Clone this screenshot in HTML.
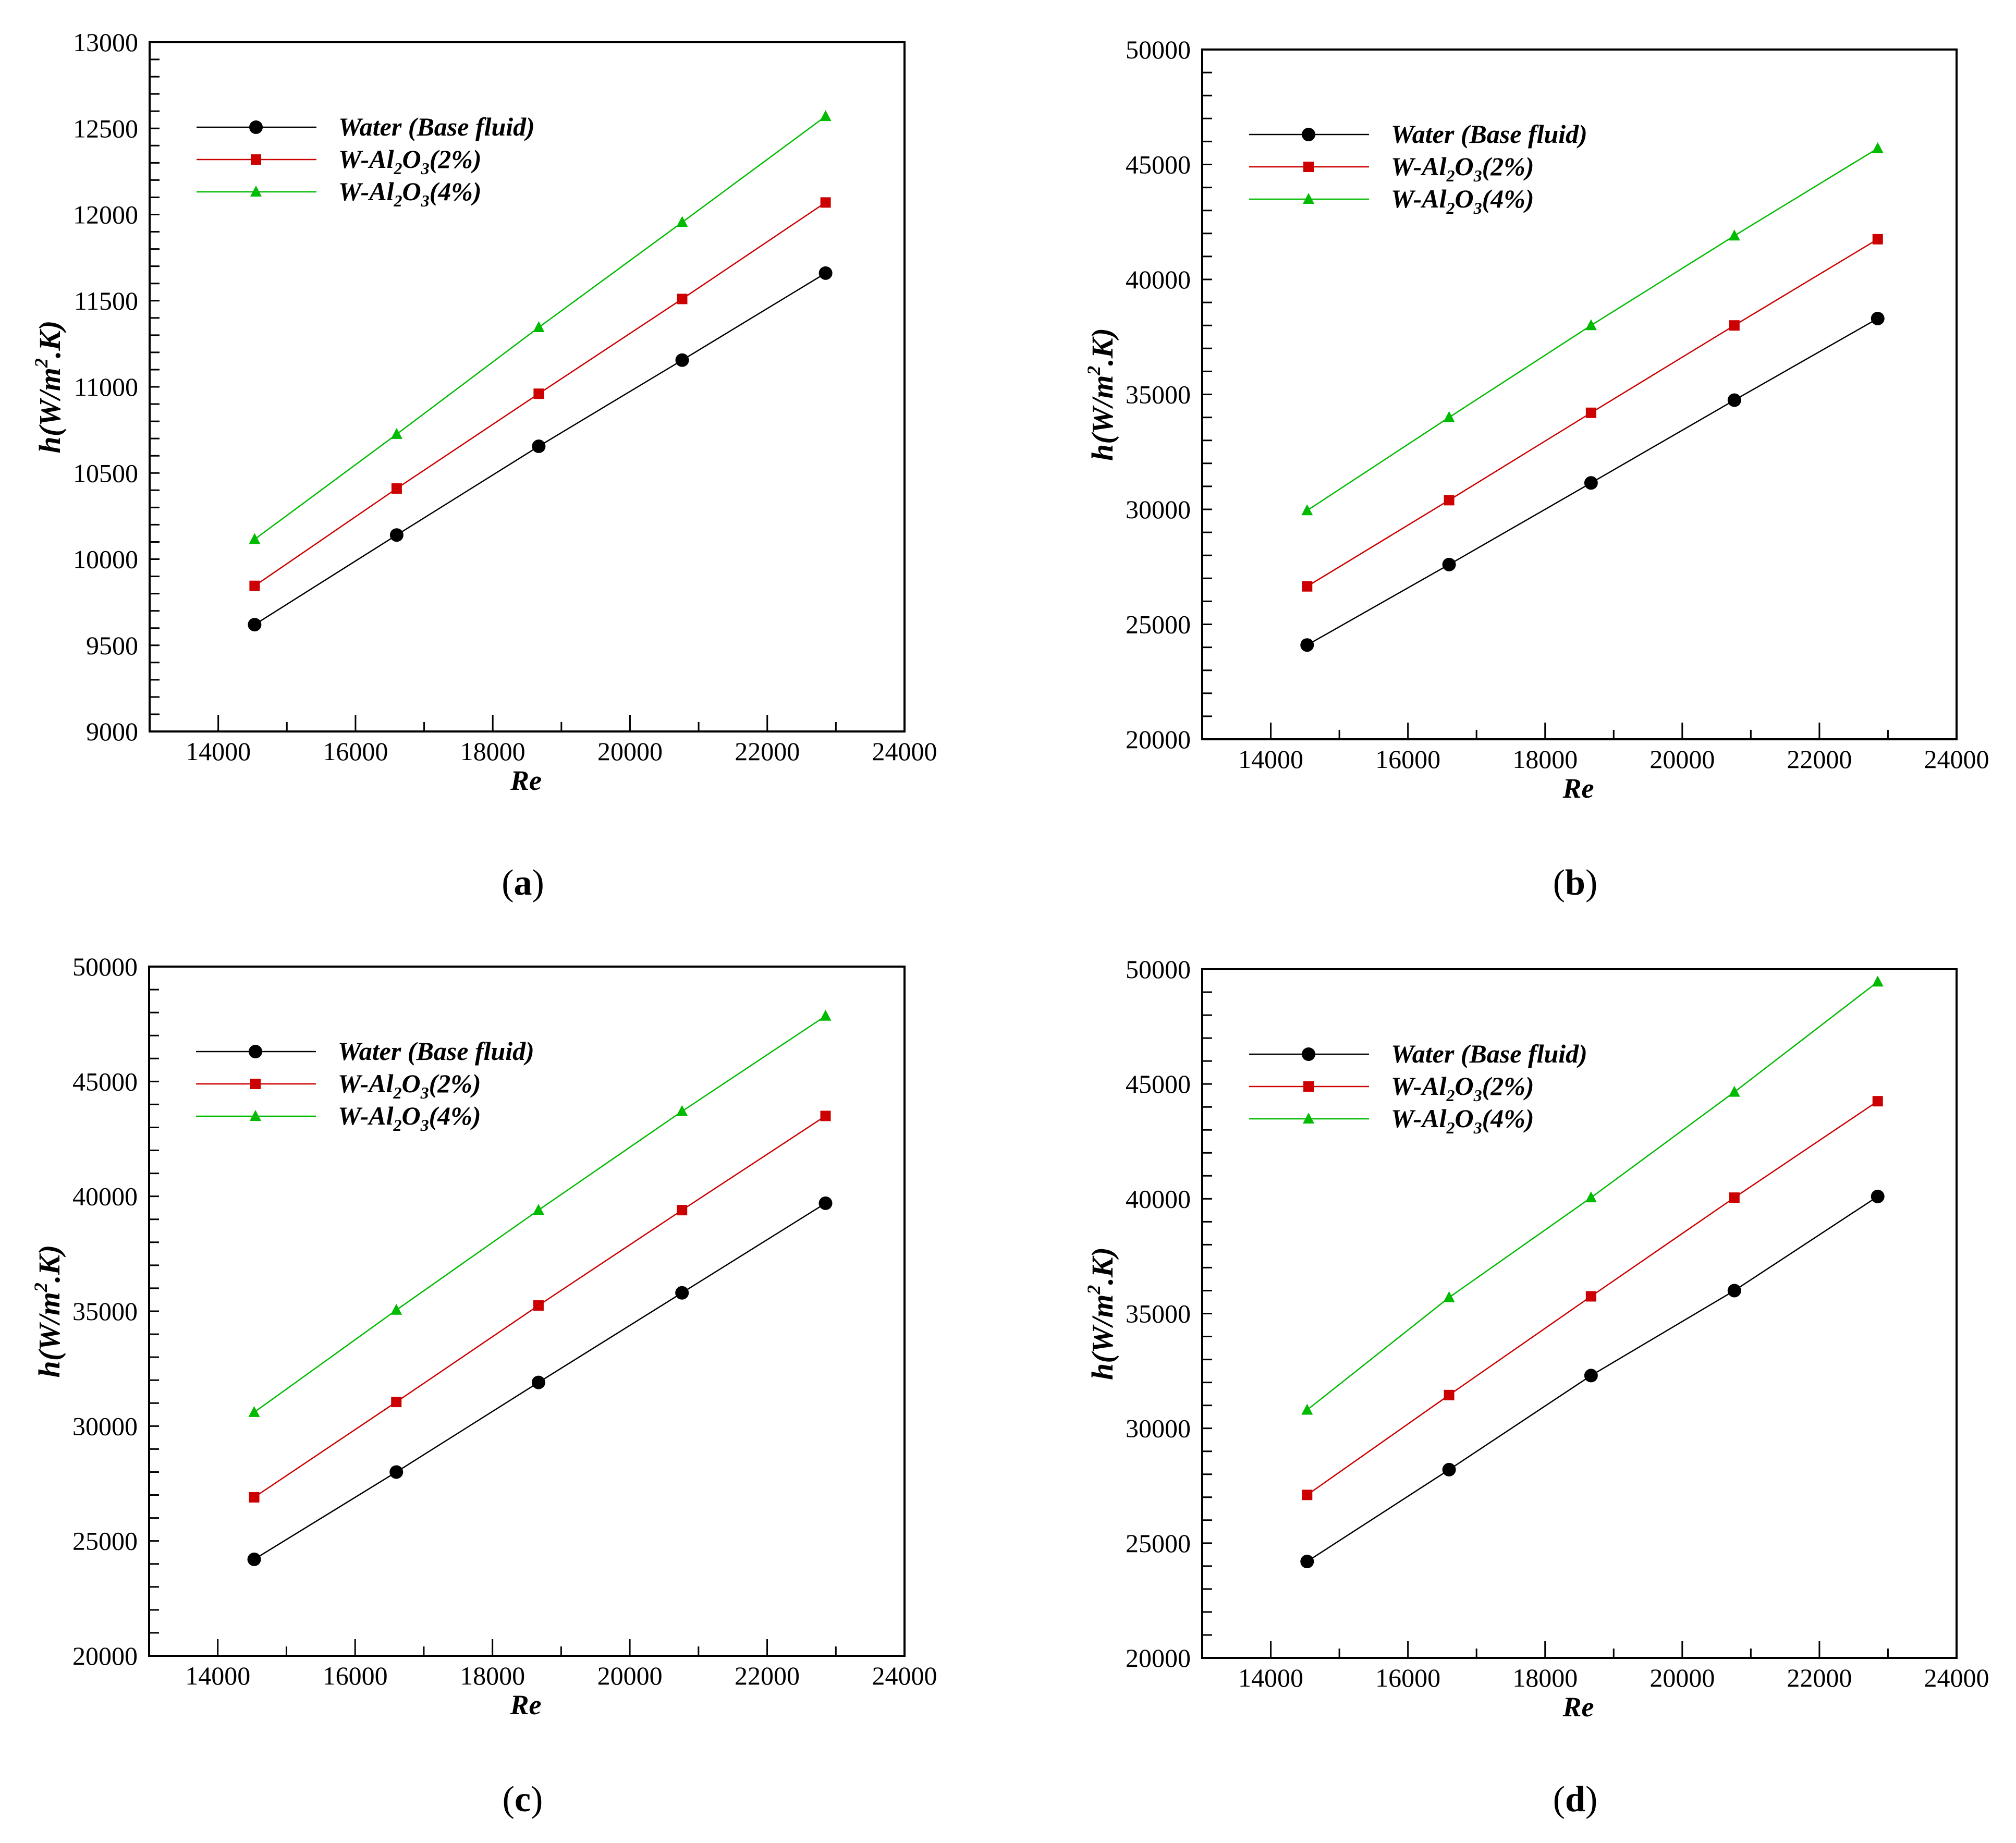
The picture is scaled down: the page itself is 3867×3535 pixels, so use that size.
<!DOCTYPE html>
<html><head><meta charset="utf-8"><style>
html,body{margin:0;padding:0;background:#fff;}
svg{display:block;}
text{font-family:"Liberation Serif",serif;}
</style></head><body>
<svg id="fig" width="3867" height="3535" viewBox="0 0 3867 3535" xmlns="http://www.w3.org/2000/svg"></svg>
<script>
const reValues = [14530, 16600, 18670, 20760, 22850];
const seriesNames = ["Water (Base fluid)", "W-Al2O3(2%)", "W-Al2O3(4%)"];
const waterA = [9620, 10140, 10655, 11155, 11660];
const al2A = [9845, 10410, 10960, 11510, 12070];
const al4A = [10115, 10725, 11345, 11955, 12570];
const waterB = [24100, 27600, 31150, 34750, 38300];
const al2B = [26650, 30400, 34200, 38000, 41750];
const al4B = [29950, 34000, 38000, 41900, 45700];
const waterC = [24200, 28000, 31900, 35800, 39700];
const al2C = [26900, 31050, 35250, 39400, 43500];
const al4C = [30600, 35050, 39400, 43700, 47850];
const waterD = [24200, 28200, 32300, 36000, 40100];
const al2D = [27100, 31450, 35750, 40050, 44250];
const al4D = [30800, 35700, 40050, 44650, 49450];
const xTicks = [14000, 16000, 18000, 20000, 22000, 24000];
const yTicksA = [9000, 9500, 10000, 10500, 11000, 11500, 12000, 12500, 13000];
const yTicksBig = [20000, 25000, 30000, 35000, 40000, 45000, 50000];

const NS = "http://www.w3.org/2000/svg";
const svg = document.getElementById("fig");
function el(tag, attrs, parent) {
  const e = document.createElementNS(NS, tag);
  for (const k in attrs) e.setAttribute(k, attrs[k]);
  (parent || svg).appendChild(e);
  return e;
}
const colors = ["#000000", "#cc0000", "#00bb00"];

function panel(id, box, yMin, yMax, yMajor, yMinor, yTicks, data, caption) {
  const g = el("g", {});
  
  
  const xMin = 13000, xMax = 24000;
  const X = v => box.l + (v - xMin) / (xMax - xMin) * (box.r - box.l);
  const Y = v => box.b - (v - yMin) / (yMax - yMin) * (box.b - box.t);
  for (let v = 13500; v < xMax; v += 500) {
    const maj = v % 2000 === 0;
    const mid = v % 1000 === 0;
    const len = maj ? 32 : (mid ? 18 : 0);
    if (!len) continue;
    const t = el("line", {x1: X(v), x2: X(v), y1: box.b, y2: box.b - len, stroke: "#000", "stroke-width": 3}, g);
    
    
  }
  for (let v = yMin + yMinor; v < yMax; v += yMinor) {
    const t = el("line", {x1: box.l, x2: box.l + 19, y1: Y(v), y2: Y(v), stroke: "#000", "stroke-width": 3}, g);
    
    
  }
  const frame = el("rect", {x: box.l, y: box.t, width: box.r - box.l, height: box.b - box.t, fill: "none", stroke: "#000", "stroke-width": 4}, g);
  
  
  xTicks.forEach(v => {
    const t = el("text", {x: X(v), y: box.b + 55, "font-size": 50, "text-anchor": "middle"}, g);
    t.textContent = v;
    
    
  });
  yTicks.forEach(v => {
    const t = el("text", {x: box.l - 22, y: Y(v) + 17, "font-size": 50, "text-anchor": "end"}, g);
    t.textContent = v;
    
    
  });
  const cx = (box.l + box.r) / 2;
  const xt = el("text", {x: cx - 2, y: box.b + 112, "font-size": 54, "font-weight": "bold", "font-style": "italic", "text-anchor": "middle"}, g);
  xt.textContent = "Re";
  
  
  const cy = (box.t + box.b) / 2;
  const yt = el("text", {x: 0, y: 0, "font-size": 58, "font-weight": "bold", "font-style": "italic", "text-anchor": "middle", transform: `translate(${box.l - 172},${cy}) rotate(-90)`}, g);
  yt.innerHTML = 'h(W/m<tspan dy="-24" font-size="36">2</tspan><tspan dy="24">.K)</tspan>';
  
  

  function marker(k, x, y, parent) {
    let m;
    if (k === 0) m = el("circle", {cx: x, cy: y, r: 13, fill: colors[0]}, parent);
    else if (k === 1) m = el("rect", {x: x - 10, y: y - 10, width: 20, height: 20, fill: colors[1]}, parent);
    else m = el("polygon", {points: `${x},${y - 12} ${x - 11},${y + 9} ${x + 11},${y + 9}`, fill: colors[2]}, parent);
    
    
  }
  data.forEach((vals, k) => {
    const pts = vals.map((v, i) => X(reValues[i]) + "," + Y(v)).join(" ");
    const pl = el("polyline", {points: pts, fill: "none", stroke: colors[k], "stroke-width": 2.5}, g);
    
    
    vals.forEach((v, i) => marker(k, X(reValues[i]), Y(v), g));
  });
  const lg = el("g", {}, g);
  
  
  const labels = ['Water (Base fluid)', 'W-Al<tspan dy="12" font-size="32">2</tspan><tspan dy="-12">O</tspan><tspan dy="12" font-size="32">3</tspan><tspan dy="-12">(2%)</tspan>', 'W-Al<tspan dy="12" font-size="32">2</tspan><tspan dy="-12">O</tspan><tspan dy="12" font-size="32">3</tspan><tspan dy="-12">(4%)</tspan>'];
  [0, 1, 2].forEach(k => {
    const y = box.t + 163 + k * 62;
    const ln = el("line", {x1: box.l + 90, x2: box.l + 320, y1: y, y2: y, stroke: colors[k], "stroke-width": 2.5}, lg);
    
    
    marker(k, box.l + 204, y, lg);
    const t = el("text", {x: box.l + 362, y: y + 16, "font-size": 50, "font-weight": "bold", "font-style": "italic"}, lg);
    t.innerHTML = labels[k];
    
    
  });
  const cap = el("text", {x: cx - 8, y: caption.y, "font-size": 70, "text-anchor": "middle"}, g);
  cap.innerHTML = '(<tspan font-weight="bold">' + id + '</tspan>)';
  
  
}
panel("a", {l: 287, r: 1735, t: 81, b: 1403}, 9000, 13000, 500, 100, yTicksA, [waterA, al2A, al4A], {y: 1716});
panel("b", {l: 2306, r: 3753, t: 95, b: 1418}, 20000, 50000, 5000, 1000, yTicksBig, [waterB, al2B, al4B], {y: 1716});
panel("c", {l: 286, r: 1735, t: 1854, b: 3176}, 20000, 50000, 5000, 1000, yTicksBig, [waterC, al2C, al4C], {y: 3474});
panel("d", {l: 2306, r: 3753, t: 1859, b: 3180}, 20000, 50000, 5000, 1000, yTicksBig, [waterD, al2D, al4D], {y: 3474});
</script>
</body></html>
